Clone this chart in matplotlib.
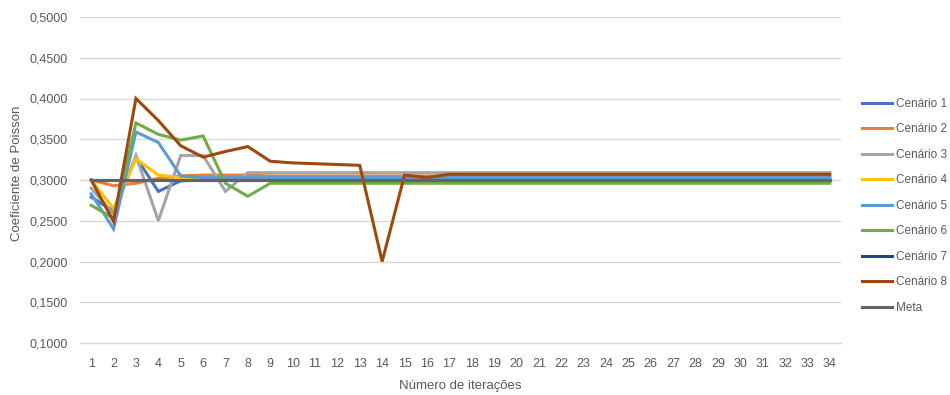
import matplotlib
matplotlib.use("Agg")
import matplotlib.pyplot as plt
from matplotlib.ticker import FuncFormatter, MultipleLocator

plt.rcParams['font.family'] = ['Liberation Sans', 'DejaVu Sans']

iteracoes = list(range(1, 35))

cenario1 = [0.279, 0.262, 0.328, 0.286, 0.299] + [0.300] * 29
cenario2 = [0.300, 0.293, 0.296, 0.302, 0.305, 0.306, 0.306, 0.306] + [0.305] * 26
cenario3 = [0.290, 0.258, 0.330, 0.250, 0.330, 0.330, 0.286] + [0.309] * 27
cenario4 = [0.300, 0.265, 0.326, 0.306, 0.303, 0.303, 0.303] + [0.302] * 27
cenario5 = [0.283, 0.240, 0.359, 0.346, 0.305] + [0.303] * 29
cenario6 = [0.269, 0.253, 0.370, 0.356, 0.349, 0.354, 0.296, 0.280] + [0.296] * 26
cenario7 = [0.300] * 34
cenario8 = [0.300, 0.249, 0.400, 0.373, 0.342, 0.328, 0.335, 0.341, 0.323,
            0.321, 0.320, 0.319, 0.318, 0.200, 0.306, 0.303] + [0.307] * 18
meta = [0.300] * 34

series = [
    ("Cenário 1", cenario1, "#4472C4"),
    ("Cenário 2", cenario2, "#ED7D31"),
    ("Cenário 3", cenario3, "#A5A5A5"),
    ("Cenário 4", cenario4, "#FFC000"),
    ("Cenário 5", cenario5, "#5B9BD5"),
    ("Cenário 6", cenario6, "#70AD47"),
    ("Cenário 7", cenario7, "#264478"),
    ("Cenário 8", cenario8, "#9E480E"),
    ("Meta", meta, "#636363"),
]

fig = plt.figure(figsize=(9.5, 3.95), dpi=100)
ax = fig.add_axes([80 / 950, 1 - 343 / 395, (841 - 80) / 950, (343 - 17) / 395])

for name, vals, col in series:
    ax.plot(iteracoes, vals, color=col, linewidth=2.2, label=name,
            solid_joinstyle='miter')

ax.set_xlim(0.5, 34.5)
ax.set_ylim(0.1, 0.5)
ax.yaxis.set_major_locator(MultipleLocator(0.05))
ax.yaxis.set_major_formatter(FuncFormatter(lambda v, p: f"{v:.4f}".replace('.', ',')))
ax.set_xticks(iteracoes)
ax.set_xticklabels([str(i) for i in iteracoes])

ax.grid(axis='y', color='#D9D9D9', linewidth=1.0)
ax.set_axisbelow(True)
for s in ['top', 'right', 'left']:
    ax.spines[s].set_visible(False)
ax.spines['bottom'].set_color('#D9D9D9')
ax.spines['bottom'].set_linewidth(1.0)
ax.tick_params(axis='both', length=0, labelsize=9, colors='#595959')
ax.tick_params(axis='y', pad=9)
ax.tick_params(axis='x', pad=11)

ax.set_ylabel("Coeficiente de Poisson", fontsize=9.5, color='#595959')
ax.yaxis.set_label_coords(-0.075, 0.52)
ax.set_xlabel("Número de iterações", fontsize=9.5, color='#595959', labelpad=7)

leg = fig.legend(loc='upper left', bbox_to_anchor=(862 / 950, 1 - 98 / 395),
                 frameon=False, fontsize=8.5, handlelength=2.55, handletextpad=0.3,
                 labelspacing=1.14, borderaxespad=0, borderpad=0)
for t in leg.get_texts():
    t.set_color('#595959')

fig.savefig("out.png", dpi=100)
